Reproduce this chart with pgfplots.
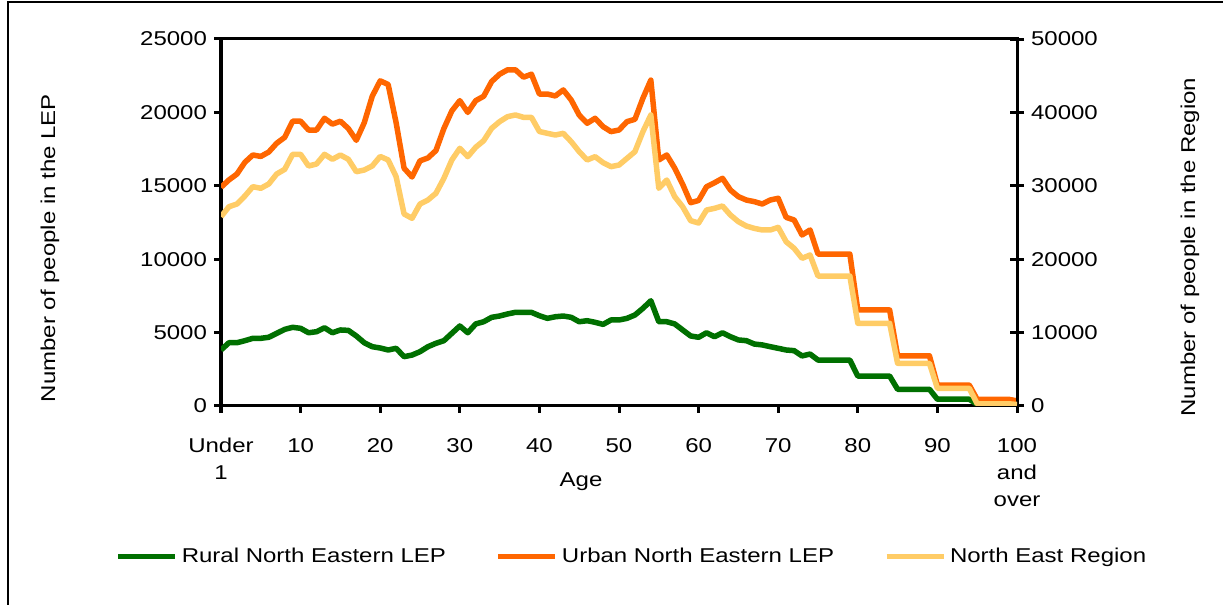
\documentclass[border=0pt]{standalone}
\usepackage{fontspec}
\setmainfont{Liberation Sans}[FakeStretch=1.2]
\usepackage{pgfplots}
\pgfplotsset{compat=1.18}
\usepackage{pgfplotstable}
\definecolor{rural}{RGB}{0,112,0}
\definecolor{urban}{RGB}{255,102,0}
\definecolor{region}{RGB}{255,204,102}
\pgfplotstableread{
age rural urban region
0 3815 14900 25790
1 4310 15400 27150
2 4310 15800 27520
3 4450 16600 28610
4 4610 17100 29880
5 4610 17000 29660
6 4680 17300 30250
7 4950 17900 31610
8 5220 18300 32240
9 5360 19400 34290
10 5290 19400 34290
11 4990 18800 32700
12 5060 18800 32970
13 5330 19600 34290
14 4990 19200 33610
15 5180 19400 34200
16 5150 18900 33610
17 4770 18100 31920
18 4310 19300 32150
19 4040 21100 32700
20 3950 22150 34000
21 3815 21900 33520
22 3930 19300 31240
23 3360 16200 26160
24 3470 15600 25570
25 3700 16700 27520
26 4040 16900 28070
27 4270 17400 28980
28 4450 18900 31020
29 4950 20100 33520
30 5450 20800 35110
31 4990 20000 33970
32 5590 20800 35250
33 5740 21100 36150
34 6040 22100 37830
35 6130 22600 38740
36 6270 22900 39420
37 6380 22900 39650
38 6380 22400 39330
39 6380 22600 39330
40 6150 21250 37400
41 5970 21250 37150
42 6080 21120 36920
43 6130 21530 37150
44 6040 20840 36010
45 5740 19820 34650
46 5810 19260 33520
47 5700 19600 33970
48 5560 19030 33150
49 5860 18690 32610
50 5860 18800 32830
51 5970 19370 33740
52 6200 19530 34650
53 6650 20960 37370
54 7170 22200 39650
55 5740 16760 29660
56 5740 17100 30790
57 5590 16200 28520
58 5180 15100 27150
59 4770 13850 25250
60 4680 14000 24930
61 4990 14940 26700
62 4720 15210 26930
63 4990 15510 27250
64 4720 14710 26020
65 4500 14260 25110
66 4450 14030 24520
67 4220 13920 24200
68 4160 13760 23980
69 4040 14030 23980
70 3930 14150 24340
71 3815 12850 22380
72 3770 12670 21480
73 3410 11650 20120
74 3540 11990 20570
75 3130 10350 17710
76 3130 10350 17710
77 3130 10350 17710
78 3130 10350 17710
79 3130 10350 17710
80 2040 6540 11270
81 2040 6540 11270
82 2040 6540 11270
83 2040 6540 11270
84 2040 6540 11270
85 1140 3420 5820
86 1140 3420 5820
87 1140 3420 5820
88 1140 3420 5820
89 1140 3420 5820
90 460 1430 2410
91 460 1430 2410
92 460 1430 2410
93 460 1430 2410
94 460 1430 2410
95 120 450 300
96 120 450 300
97 120 450 300
98 120 450 300
99 120 450 300
100 60 350 200
}\data
\pgfplotsset{
  common/.style={
    width=398pt, height=183.5pt, scale only axis,
    at={(110.5pt,99.5pt)}, anchor=south west,
    xmin=0, xmax=100,
    font=\fontsize{10}{12}\selectfont,
    ticklabel style={font=\fontsize{10}{12}\selectfont},
    /pgf/number format/assume math mode=true,
    /pgf/number format/set thousands separator={},
    scaled y ticks=false,
    axis line style={line width=1.5pt, black},
    major tick style={line width=1.5pt, black},
  },
  ser/.style={line width=2.75pt, line join=round, no markers},
}
\begin{document}
\begin{tikzpicture}
\path[use as bounding box] (0,0) rectangle (611.5pt,302.5pt);
\begin{axis}[common,
  ymin=0, ymax=25000, ytick={0,5000,...,25000},
  xtick={0,10,...,100},
  xticklabels={Under\\1,10,20,30,40,50,60,70,80,90,100\\and\\over},
  xticklabel style={align=center, font=\fontsize{10}{13.5}\selectfont, yshift=-9pt},
  xtick pos=bottom, ytick pos=left, tick align=outside,
  major tick length=3.5pt,
  xlabel={Age},
  xlabel style={at={(axis description cs:0.4523,-0.207)}, anchor=center},
  ylabel={Number of people in the LEP},
  ylabel style={at={(axis description cs:-0.2148,0.43)}, anchor=center},
]
\addplot[ser, rural] table[x=age, y=rural] {\data};
\addplot[ser, urban] table[x=age, y=urban] {\data};
\end{axis}
\begin{axis}[common,
  ymin=0, ymax=50000, ytick={0,10000,...,50000},
  axis x line=none, axis y line*=right,
  tick align=center, major tick length=7pt,
  ylabel={Number of people in the Region},
  ylabel style={at={(axis description cs:1.2173,0.433)}, anchor=center},
  legend columns=3,
  legend style={at={(axis description cs:0.5176,-0.411)}, anchor=center,
    draw=none, fill=none, font=\fontsize{10}{12}\selectfont,
    /tikz/every even column/.append style={column sep=23pt},
    /tikz/every odd column/.append style={column sep=0pt}},
  legend image code/.code={\draw[#1, line width=2.5pt] (0pt,0pt) -- (28.5pt,0pt);},
]
\addlegendimage{rural}\addlegendentry{Rural North Eastern LEP}
\addlegendimage{urban}\addlegendentry{Urban North Eastern LEP}
\addplot[ser, region] table[x=age, y=region] {\data};
\addlegendentry{North East Region}
\end{axis}
\draw[line width=0.6pt] (4pt,0pt) -- (4pt,301.5pt) -- (611.5pt,301.5pt);
\end{tikzpicture}
\end{document}
